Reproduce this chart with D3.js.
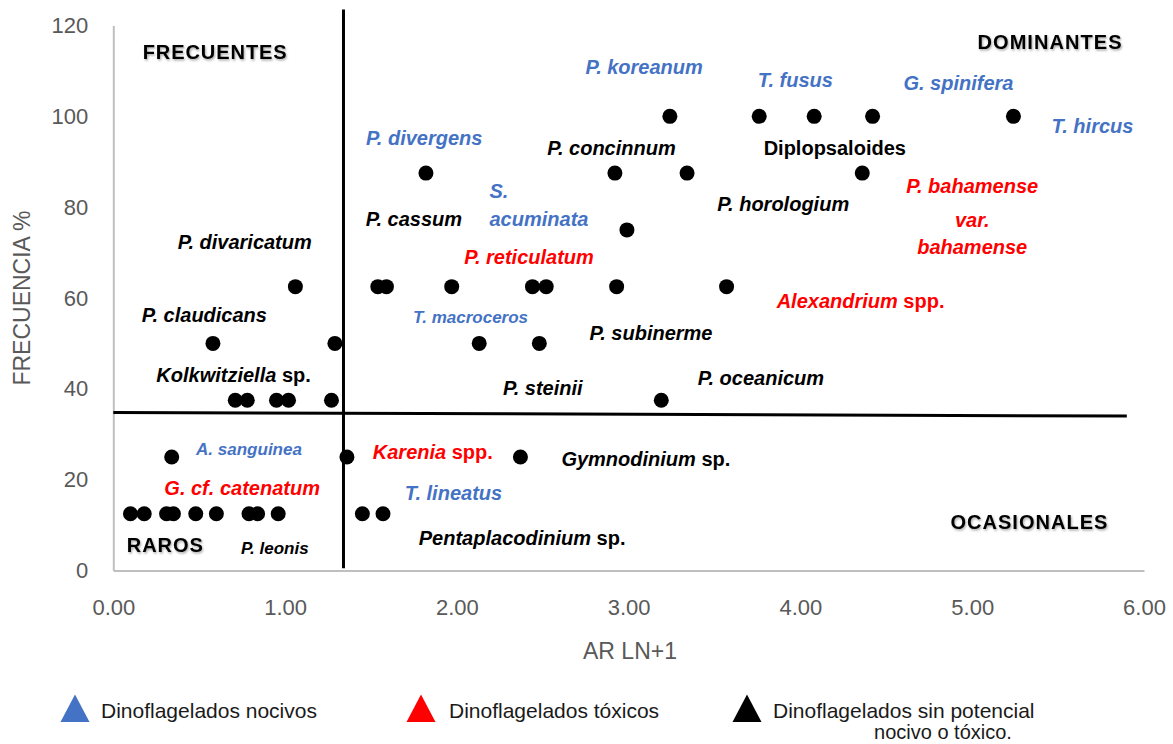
<!DOCTYPE html>
<html>
<head>
<meta charset="utf-8">
<script src="https://cdn.jsdelivr.net/npm/d3@7"></script>
<style>
  body { margin: 0; background: #fff; }
  svg { display: block; font-family: "Liberation Sans", Arial, sans-serif; }
</style>
</head>
<body>
<div id="root"></div>
<script>
const WIDTH = 1173;
const HEIGHT = 744;

// AR (ln+1) and frecuencia (%) of each species
const arValues = [
  3.24, 3.76, 4.08, 4.42, 5.24,
  1.82, 2.92, 3.34, 4.36,
  2.99,
  1.06, 1.54, 1.59, 1.97, 2.44, 2.52, 2.93, 3.57,
  0.58, 1.29, 2.13, 2.48,
  0.71, 0.78, 0.95, 1.02, 1.27, 3.19,
  0.34, 1.36, 2.37,
  0.10, 0.18, 0.31, 0.35, 0.48, 0.60, 0.79, 0.84, 0.96, 1.45, 1.57
];
const frecValues = [
  100, 100, 100, 100, 100,
  87.5, 87.5, 87.5, 87.5,
  75,
  62.5, 62.5, 62.5, 62.5, 62.5, 62.5, 62.5, 62.5,
  50, 50, 50, 50,
  37.5, 37.5, 37.5, 37.5, 37.5, 37.5,
  25, 25, 25,
  12.5, 12.5, 12.5, 12.5, 12.5, 12.5, 12.5, 12.5, 12.5, 12.5, 12.5
];

const xTicks = [0, 1, 2, 3, 4, 5, 6];
const yTicks = [0, 20, 40, 60, 80, 100, 120];

// quadrant dividers (hand drawn in the original)
const splitAR = [[1.34, 0.5], [1.34, 123.5]];
const splitFrec = [[0, 34.8], [5.9, 34.0]];

const groupNames = ["Dinoflagelados nocivos", "Dinoflagelados tóxicos", "Dinoflagelados sin potencial"];
const groupColors = {n: "#4472C4", t: "#FF0000", s: "#000000"};

const quadrantLabels = [
  {text: "FRECUENTES", x: 0.59, y: 114.2, w: 144},
  {text: "DOMINANTES", x: 5.45, y: 116.4, w: 144},
  {text: "OCASIONALES", x: 5.33, y: 10.7, w: 157},
  {text: "RAROS", x: 0.30, y: 5.6, w: 76}
];

// t = italic part, s = upright part
const speciesLabels = [
  {t: "P. koreanum", g: "n", x: 3.09, y: 110.9},
  {t: "T. fusus", g: "n", x: 3.97, y: 108.0},
  {t: "G. spinifera", g: "n", x: 4.92, y: 107.3},
  {t: "T. hircus", g: "n", x: 5.70, y: 97.9},
  {t: "", s: "Diplopsaloides", g: "s", x: 4.20, y: 93.0},
  {t: "P. divergens", g: "n", x: 1.81, y: 95.2},
  {t: "P. concinnum", g: "s", x: 2.90, y: 93.1},
  {t: "P. horologium", g: "s", x: 3.90, y: 80.6},
  {t: "P. bahamense", g: "t", x: 5.00, y: 84.7},
  {t: "var.", g: "t", x: 5.00, y: 77.2},
  {t: "bahamense", g: "t", x: 5.00, y: 71.3},
  {t: "S.", g: "n", x: 2.19, y: 83.6, start: true},
  {t: "acuminata", g: "n", x: 2.19, y: 77.5, start: true},
  {t: "P. cassum", g: "s", x: 1.75, y: 77.5},
  {t: "P. divaricatum", g: "s", x: 0.765, y: 72.4},
  {t: "P. reticulatum", g: "t", x: 2.42, y: 69.1},
  {t: "Alexandrium", s: " spp.", g: "t", x: 4.35, y: 59.4},
  {t: "P. claudicans", g: "s", x: 0.53, y: 56.3},
  {t: "T. macroceros", g: "n", x: 2.08, y: 55.9, small: true},
  {t: "P. subinerme", g: "s", x: 3.13, y: 52.4},
  {t: "Kolkwitziella", s: " sp.", g: "s", x: 0.70, y: 43.0},
  {t: "P. oceanicum", g: "s", x: 3.77, y: 42.3},
  {t: "P. steinii", g: "s", x: 2.50, y: 40.1},
  {t: "A. sanguinea", g: "n", x: 0.79, y: 26.7, small: true},
  {t: "Karenia", s: " spp.", g: "t", x: 1.86, y: 26.2},
  {t: "Gymnodinium", s: " sp.", g: "s", x: 3.10, y: 24.6},
  {t: "G. cf. catenatum", g: "t", x: 0.75, y: 18.1},
  {t: "T. lineatus", g: "n", x: 1.98, y: 17.0},
  {t: "Pentaplacodinium", s: " sp.", g: "s", x: 2.38, y: 7.2},
  {t: "P. leonis", g: "s", x: 0.94, y: 4.9, small: true}
];

const xScale = d3.scaleLinear().domain([0, 6]).range([113.3, 1144]);
const yScale = d3.scaleLinear().domain([0, 120]).range([570.5, 25.5]);

const svg = d3.select("#root")
  .append("svg")
  .attr("width", WIDTH)
  .attr("height", HEIGHT);

const defs = svg.append("defs");
const shadow = defs.append("filter").attr("id", "soft").attr("x", "-10%").attr("y", "-30%")
  .attr("width", "120%").attr("height", "160%");
shadow.append("feDropShadow").attr("dx", 1).attr("dy", 1.5)
  .attr("stdDeviation", 1.2).attr("flood-color", "#000").attr("flood-opacity", 0.35);

// axes
const xAxis = d3.axisBottom(xScale).tickValues(xTicks).tickFormat(d3.format(".2f"))
  .tickSize(0).tickPadding(29);
const yAxis = d3.axisLeft(yScale).tickValues(yTicks).tickSize(0).tickPadding(25);

const gx = svg.append("g").attr("transform", `translate(0,${yScale(0)})`).call(xAxis);
const gy = svg.append("g").attr("transform", `translate(${xScale(0)},0)`).call(yAxis);

[gx, gy].forEach(g => {
  g.select(".domain").attr("stroke", "#bfbfbf").attr("stroke-width", 2);
  g.selectAll("text").attr("fill", "#595959").style("font-size", "22px")
    .style("font-family", "'Liberation Sans', Arial, sans-serif");
});

svg.append("text")
  .attr("transform", "translate(22,298) rotate(-90)")
  .attr("text-anchor", "middle").attr("dy", "0.35em")
  .attr("fill", "#595959").style("font-size", "23px")
  .text("FRECUENCIA %");

svg.append("text")
  .attr("x", 630).attr("y", 651).attr("dy", "0.35em")
  .attr("text-anchor", "middle")
  .attr("fill", "#595959").style("font-size", "23px")
  .text("AR LN+1");

// quadrant lines
const line = d3.line().x(d => xScale(d[0])).y(d => yScale(d[1]));
[splitAR, splitFrec].forEach(seg => {
  svg.append("path").attr("d", line(seg))
    .attr("stroke", "#000").attr("stroke-width", 3).attr("fill", "none");
});

// points
svg.append("g").selectAll("circle")
  .data(arValues.map((a, i) => ({x: a, y: frecValues[i]})))
  .join("circle")
  .attr("cx", d => xScale(d.x))
  .attr("cy", d => yScale(d.y))
  .attr("r", 7.5)
  .attr("fill", "#000");

// quadrant names
svg.append("g").selectAll("text")
  .data(quadrantLabels)
  .join("text")
  .attr("x", d => xScale(d.x))
  .attr("y", d => yScale(d.y))
  .attr("dy", "0.36em")
  .attr("text-anchor", "middle")
  .attr("textLength", d => d.w)
  .attr("lengthAdjust", "spacing")
  .attr("filter", "url(#soft)")
  .style("font-size", "20px")
  .style("font-weight", "bold")
  .text(d => d.text);

// species names
const labels = svg.append("g").selectAll("text")
  .data(speciesLabels)
  .join("text")
  .attr("x", d => xScale(d.x))
  .attr("y", d => yScale(d.y))
  .attr("dy", "0.35em")
  .attr("text-anchor", d => d.start ? "start" : "middle")
  .attr("fill", d => groupColors[d.g])
  .style("font-size", d => d.small ? "17px" : "20px")
  .style("font-weight", "bold");

labels.append("tspan").style("font-style", "italic").text(d => d.t);
labels.filter(d => d.s).append("tspan").text(d => d.s);

// legend
const legendX = [75, 421, 747];
const legendText = [101, 449, 773];
const legendKeys = ["n", "t", "s"];
const legend = svg.append("g");
legendKeys.forEach((k, i) => {
  const cx = legendX[i];
  legend.append("path")
    .attr("d", `M${cx - 14.5},722 L${cx},694.5 L${cx + 14.5},722 Z`)
    .attr("fill", groupColors[k]);
  legend.append("text")
    .attr("x", legendText[i]).attr("y", 711).attr("dy", "0.35em")
    .attr("fill", "#1a1a1a").style("font-size", "21px")
    .text(groupNames[i]);
});
legend.append("text")
  .attr("x", 943).attr("y", 732).attr("dy", "0.35em")
  .attr("text-anchor", "middle")
  .attr("fill", "#1a1a1a").style("font-size", "20px")
  .text("nocivo o tóxico.");
</script>
</body>
</html>
